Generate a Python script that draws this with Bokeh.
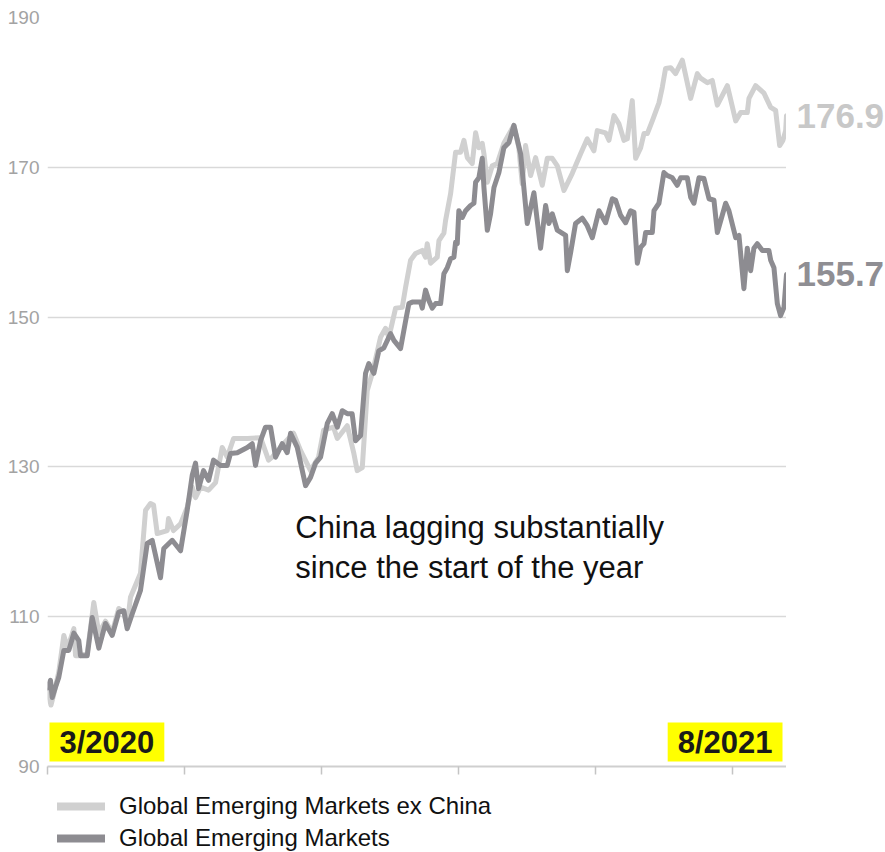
from bokeh.plotting import figure
from bokeh.layouts import row, column
from bokeh.models import Range1d, FixedTicker, Label, Legend, LegendItem, ColumnDataSource
from bokeh.embed import file_html
from bokeh.resources import INLINE

# ---- data (x = weeks since start of 3/2020, y = index level) ----
weeks_ex = [0, 0.33, 0.57, 1.07, 1.55, 1.9, 2.5, 2.66, 3.13, 3.77,
            4.39, 4.87, 5.5, 6.14, 6.76, 7.24, 7.56, 7.87, 8.82, 9.3,
            9.77, 10.06, 10.41, 11.36, 11.48, 11.95, 12.62, 13.25, 13.73, 14.04,
            14.52, 15.28, 15.94, 16.57, 17.05, 17.65, 18.95, 20.21, 20.97, 21.32,
            22.39, 23.34, 24.0, 24.95, 25.71, 26.19, 27.13, 27.49, 28.43, 29.06,
            29.38, 29.86, 30.33, 30.81, 31.59, 32.07, 32.38, 33.02, 33.65, 33.97,
            34.44, 34.91, 35.55, 35.86, 36.02, 36.34, 36.97, 37.13, 37.6, 37.76,
            38.24, 38.71, 39.18, 39.5, 39.82, 40.29, 40.61, 40.92, 41.24, 41.4,
            41.72, 42.19, 42.66, 43.29, 44.24, 44.71, 45.03, 45.35, 45.83, 46.3,
            46.93, 47.41, 47.88, 48.36, 48.99, 49.78, 50.57, 51.2, 51.83, 52.15,
            52.94, 53.26, 53.73, 54.21, 54.68, 55.0, 55.47, 55.79, 56.26, 56.58,
            56.9, 57.37, 58.0, 58.32, 58.63, 59.11, 59.58, 60.22, 61.01, 61.64,
            61.95, 62.59, 63.06, 63.54, 64.49, 65.28, 65.75, 66.38, 66.54, 67.17,
            67.96, 68.6, 69.07, 69.45, 69.76, 70.02, 70.1]
ex_china = [100.2, 98.2, 99.5, 102.6, 107.5, 105.8, 108.4, 104.8, 104.8, 105.1,
            111.9, 107.8, 109.4, 107.9, 111.1, 110.6, 108.8, 112.6, 115.8, 124.2,
            125.1, 124.9, 121.1, 121.5, 123.1, 121.5, 122.4, 124.6, 127.3, 125.9,
            127.3, 126.9, 127.9, 132.6, 131.3, 133.8, 133.8, 133.9, 130.9, 131.3,
            133.1, 134.5, 132.2, 129.5, 131.3, 134.9, 135.3, 133.8, 135.5, 131.8,
            129.5, 129.9, 140.2, 142.5, 147.3, 148.5, 147.3, 151.2, 151.3, 154.0,
            157.6, 158.5, 158.9, 158.0, 159.8, 157.2, 158.0, 160.2, 161.2, 162.9,
            166.5, 172.0, 172.0, 173.6, 171.3, 170.5, 174.6, 172.6, 173.2, 171.8,
            168.0, 170.2, 170.5, 173.2, 175.6, 172.6, 167.8, 172.9, 168.9, 171.3,
            167.6, 171.2, 171.2, 170.2, 166.9, 169.2, 171.8, 173.8, 172.2, 174.9,
            174.6, 173.6, 176.9, 175.8, 173.6, 173.8, 178.9, 171.2, 172.6, 174.5,
            174.5, 176.2, 178.6, 180.7, 183.2, 183.3, 182.5, 184.3, 179.2, 182.5,
            181.9, 181.3, 181.6, 178.3, 180.9, 176.2, 177.3, 177.3, 179.2, 180.9,
            179.9, 178.0, 177.6, 172.9, 173.6, 174.9, 176.9]

weeks_em = [0, 0.28, 0.45, 0.76, 1.07, 1.55, 2.02, 2.5, 2.97, 3.13,
            3.77, 4.24, 4.87, 5.5, 6.14, 6.76, 7.24, 7.56, 8.04, 8.82,
            9.46, 9.93, 10.72, 11.03, 11.83, 12.62, 13.25, 13.73, 14.04, 14.33,
            14.8, 15.28, 15.75, 16.41, 17.05, 17.36, 18.0, 18.95, 19.42, 19.73,
            20.21, 20.68, 21.16, 21.63, 22.27, 22.74, 23.06, 23.69, 24.48, 24.95,
            25.43, 25.9, 26.54, 27.01, 27.49, 27.96, 28.43, 28.9, 29.22, 29.7,
            30.17, 30.48, 30.96, 31.43, 31.91, 32.54, 32.86, 33.49, 33.97, 34.28,
            34.6, 35.39, 35.55, 35.86, 36.18, 36.5, 36.81, 37.29, 37.6, 37.92,
            38.24, 38.55, 38.71, 38.87, 39.02, 39.35, 39.66, 40.13, 40.45, 40.61,
            40.92, 41.24, 41.4, 41.72, 42.03, 42.35, 42.82, 43.29, 43.77, 44.24,
            44.88, 45.51, 46.14, 46.77, 47.25, 47.56, 47.88, 48.36, 49.15, 49.31,
            49.62, 50.09, 50.73, 51.2, 51.68, 52.31, 52.94, 53.58, 53.89, 54.36,
            54.84, 55.31, 55.63, 55.95, 56.26, 56.58, 56.74, 57.37, 57.53, 58.0,
            58.47, 58.8, 59.27, 59.74, 60.06, 60.69, 61.01, 61.32, 61.8, 62.27,
            62.75, 63.22, 63.54, 64.33, 64.64, 65.28, 65.59, 66.06, 66.38, 66.7,
            67.01, 67.33, 67.81, 68.43, 68.6, 68.91, 69.23, 69.54, 69.86, 70.1]
em = [100.5, 101.5, 99.2, 100.6, 101.9, 105.5, 105.5, 107.8, 106.8, 104.8,
      104.8, 109.9, 105.8, 109.1, 107.5, 110.6, 110.8, 108.4, 110.4, 113.5,
      119.8, 120.2, 115.2, 119.1, 120.2, 118.8, 124.2, 128.9, 130.5, 127.1,
      129.5, 128.2, 130.9, 130.2, 130.2, 131.8, 131.9, 132.6, 133.1, 130.2,
      133.5, 135.3, 135.3, 131.3, 133.1, 131.9, 134.5, 132.6, 127.5, 128.6,
      130.5, 131.3, 135.8, 137.1, 135.3, 137.5, 137.1, 137.1, 133.5, 134.2,
      142.5, 143.8, 142.5, 145.5, 145.9, 147.8, 146.9, 145.8, 149.5, 151.8,
      152.0, 152.0, 151.2, 153.6, 152.2, 151.2, 151.8, 151.8, 155.8, 156.6,
      157.8, 158.0, 160.0, 159.8, 164.2, 163.3, 164.2, 164.9, 165.2, 168.0,
      168.6, 171.2, 167.3, 161.6, 163.8, 167.3, 169.3, 172.6, 173.3, 175.6,
      171.8, 162.5, 166.6, 159.2, 164.9, 162.5, 163.8, 161.6, 160.9, 156.2,
      158.6, 162.5, 163.2, 162.2, 160.6, 164.2, 162.6, 165.8, 165.6, 163.6,
      162.6, 164.2, 164.0, 157.2, 159.3, 159.8, 161.3, 161.3, 164.2, 165.2,
      169.3, 168.9, 168.6, 167.6, 168.6, 168.6, 166.0, 165.2, 168.6, 168.5,
      165.8, 165.6, 161.3, 165.2, 164.2, 160.6, 160.9, 153.8, 159.2, 156.2,
      159.2, 159.8, 158.9, 158.9, 157.6, 156.6, 151.8, 150.2, 151.3, 155.7]

series_names = ["Global Emerging Markets ex China", "Global Emerging Markets"]
y_ticks = [90, 110, 130, 150, 170, 190]
x_ticks = [0, 13, 26, 39, 52, 65]
start_label = "3/2020"
end_label = "8/2021"
note = "China lagging substantially\nsince the start of the year"

# ---- styles ----
LIGHT = "#d0d0d0"
DARK = "#8d8c91"
LIGHT_TXT = "#c8c8c8"
DARK_TXT = "#8f8e93"
FONT = "Liberation Sans"

y_range = Range1d(90, 190)

# ---------------- main chart ----------------
p = figure(width=786, height=780, output_backend="svg", toolbar_location=None,
           x_range=Range1d(0, 70.1), y_range=y_range,
           min_border_left=47, min_border_right=0, min_border_top=17,
           min_border_bottom=14)
p.outline_line_color = None

src_ex = ColumnDataSource(dict(x=weeks_ex, y=ex_china))
src_em = ColumnDataSource(dict(x=weeks_em, y=em))

p.line("x", "y", source=src_ex, line_color=LIGHT, line_width=5,
       line_join="round", line_cap="round")
p.line("x", "y", source=src_em, line_color=DARK, line_width=5,
       line_join="round", line_cap="round")

p.yaxis.ticker = FixedTicker(ticks=y_ticks)
p.yaxis.axis_line_color = None
p.yaxis.major_tick_line_color = None
p.yaxis.major_tick_out = 0
p.yaxis.major_tick_in = 0
p.yaxis.minor_tick_line_color = None
p.yaxis.major_label_standoff = 8
p.yaxis.major_label_text_font = FONT
p.yaxis.major_label_text_font_size = "19px"
p.yaxis.major_label_text_color = "#a3a3a3"

p.xaxis.ticker = FixedTicker(ticks=x_ticks)
p.xaxis.axis_line_color = "#cfcfcf"
p.xaxis.axis_line_width = 2
p.xaxis.major_tick_line_color = "#c4c4c4"
p.xaxis.major_tick_line_width = 1.5
p.xaxis.major_tick_out = 8
p.xaxis.major_tick_in = 0
p.xaxis.minor_tick_line_color = None
p.xaxis.major_label_overrides = {t: "" for t in x_ticks}
p.xaxis.major_label_standoff = 0

p.xgrid.grid_line_color = None
p.ygrid.ticker = FixedTicker(ticks=y_ticks)
p.ygrid.grid_line_color = "#d9d9d9"
p.ygrid.grid_line_width = 1.3

# date labels with yellow boxes
p.add_layout(Label(x=weeks_em[0], y=y_range.start, text=start_label, x_offset=2, y_offset=5,
                   text_baseline="bottom", text_align="left", text_font=FONT,
                   text_font_size="31px", text_font_style="bold", text_color="#1a1a1a",
                   background_fill_color="#ffff00", padding=(10, 2)))
p.add_layout(Label(x=weeks_em[-1], y=y_range.start, text=end_label, x_offset=-4, y_offset=5,
                   text_baseline="bottom", text_align="right", text_font=FONT,
                   text_font_size="31px", text_font_style="bold", text_color="#1a1a1a",
                   background_fill_color="#ffff00", padding=(10, 2)))

# annotation
p.add_layout(Label(x=23.5, y=124.3, text=note, text_baseline="top", text_align="left",
                   text_font=FONT, text_font_size="31px", text_color="#111111",
                   text_line_height=1.15))

# ---------------- end-value labels (right strip) ----------------
pr = figure(width=99, height=780, output_backend="svg", toolbar_location=None,
            x_range=Range1d(0, 1), y_range=y_range,
            x_axis_location=None, y_axis_location=None,
            min_border_left=0, min_border_right=0, min_border_top=17,
            min_border_bottom=14)
pr.outline_line_color = None
pr.grid.visible = False
end_src = ColumnDataSource(dict(
    x=[0, 0], y=[ex_china[-1], em[-1]],
    text=[f"{ex_china[-1]:.1f}", f"{em[-1]:.1f}"],
    color=[LIGHT_TXT, DARK_TXT]))
pr.text("x", "y", text="text", source=end_src, text_color="color", x_offset=10,
        text_baseline="middle", text_align="left", text_font_size="35px",
        text_font_style="bold", text_font={"value": FONT})

# ---------------- legend strip ----------------
pl = figure(width=885, height=72, output_backend="svg", toolbar_location=None,
            x_range=Range1d(0, 1), y_range=Range1d(0, 1),
            x_axis_location=None, y_axis_location=None,
            min_border_left=0, min_border_right=0, min_border_top=0,
            min_border_bottom=0)
pl.outline_line_color = None
pl.grid.visible = False
r_ex = pl.line("x", "y", source=src_ex, line_color=LIGHT, line_width=8, line_cap="round")
r_em = pl.line("x", "y", source=src_em, line_color=DARK, line_width=8, line_cap="round")
legend = Legend(items=[LegendItem(label=series_names[0], renderers=[r_ex]),
                       LegendItem(label=series_names[1], renderers=[r_em])],
                location=(57, 0), orientation="vertical",
                glyph_width=48, glyph_height=20, label_height=20,
                label_standoff=14, spacing=4, padding=0, margin=0,
                label_text_font=FONT, label_text_font_size="24px",
                label_text_color="#111111",
                background_fill_alpha=0, border_line_color=None)
pl.add_layout(legend, "center")

layout = column(row(p, pr, spacing=0), pl, spacing=0)
open("out.html", "w").write(file_html(layout, INLINE))
